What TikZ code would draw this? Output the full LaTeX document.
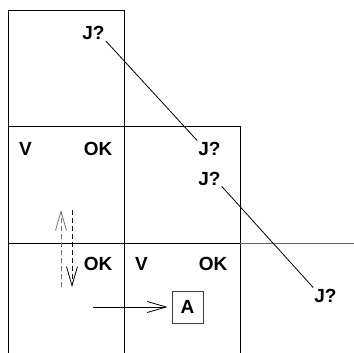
\documentclass[tikz,border=0pt]{standalone}
\usepackage{fontspec}
\setmainfont{Liberation Sans}
\usetikzlibrary{arrows.meta}
\tikzset{
  lbl/.style={
    font=\fontsize{19}{22}\selectfont\bfseries,
    inner sep=1pt
  },
  abox/.style={
    lbl,
    draw=black!75, line width=0.8pt,
    minimum width=31pt, minimum height=32pt,
    inner sep=0pt
  },
  gridline/.style={line width=1pt, draw=black},
  link/.style={line width=0.8pt, draw=black},
  barb/.style={
    -{Straight Barb[length=19pt,width=11pt,line width=0.8pt]},
    line width=0.8pt
  },
  dashline/.style={dash pattern=on 5pt off 3pt}
}

\begin{document}
\begin{tikzpicture}[x=1pt,y=-1pt]
  \useasboundingbox (0,0) rectangle (354,353);
  % cells
  \draw[gridline] (8,353) -- (8,11) -- (124,11) -- (124,353);
  \draw[gridline] (8,127) -- (240,127) -- (240,353);
  \draw[gridline] (8,243) -- (240,243);
  \draw[gridline, draw=black!60] (240,243) -- (354,243);

  \node[lbl] (jtop) at (93.5,33) {J?};
  \node[lbl] (vA) at (25.5,148.5) {V};
  \node[lbl] (okA) at (98,148.5) {OK};
  \node[lbl] (jmid) at (209.5,148.5) {J?};
  \node[lbl] (jlow) at (209.5,178.5) {J?};
  \node[lbl] (okB) at (98,264) {OK};
  \node[lbl] (vB) at (141.5,264) {V};
  \node[lbl] (okC) at (213,263.5) {OK};
  \node[lbl] (jout) at (325.5,295.5) {J?};
  \node[abox] (a) at (187.5,307) {A};

  \draw[link] (jtop.south east) -- (jmid.north west);
  \draw[link] (jlow.south east) -- (jout.north west);

  \coordinate (src) at (93,307);
  \draw[barb, shorten >=4pt] (src) -- (a);

  % dashed pair
  \coordinate (upfoot) at (61,287);
  \coordinate (uptip) at (61,210);
  \draw[barb, dashline, draw=black!55] (upfoot) -- (uptip);
  \coordinate (dntop) at (72,210);
  \coordinate (dntip) at (72,287);
  \draw[barb, dashline] (dntop) -- (dntip);
\end{tikzpicture}
\end{document}
